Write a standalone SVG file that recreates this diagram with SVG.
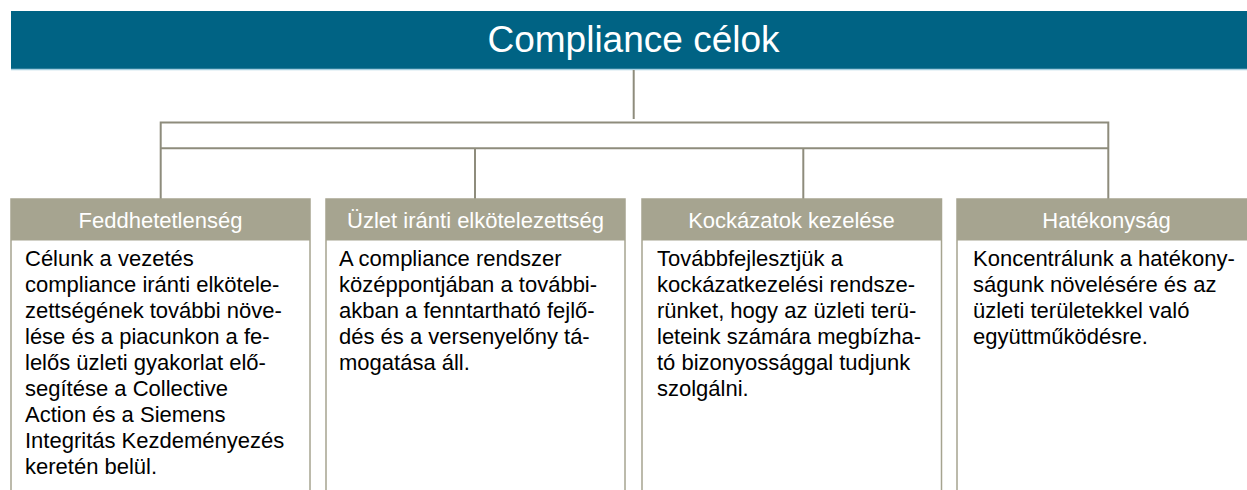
<svg xmlns="http://www.w3.org/2000/svg" width="1247" height="490" viewBox="0 0 1247 490">
<style>
.title{font-family:"Liberation Sans",Arial,sans-serif;font-size:37px;fill:#ffffff;text-anchor:middle}
.hdr{fill:#A6A490}
.hdrt{font-family:"Liberation Sans",Arial,sans-serif;font-size:22px;fill:#ffffff;text-anchor:middle}
.box{fill:#ffffff;stroke:#A6A490;stroke-width:1.5}
.body{font-family:"Liberation Sans",Arial,sans-serif;font-size:22px;fill:#000000}
.con{stroke:#8E8C7C;stroke-width:2;fill:none}
</style>
<rect width="1247" height="490" fill="#ffffff"/>
<g id="title">
<rect x="11" y="11" width="1246" height="59" fill="#006384"/>
<line x1="11" y1="69.5" x2="1247" y2="69.5" stroke="#A8CFE0" stroke-width="1.5"/>
<text class="title" x="633.5" y="52">Compliance célok</text>
</g>
<g id="connectors">
<line class="con" x1="633.7" y1="70" x2="633.7" y2="119"/>
<polyline class="con" points="160.7,199 160.7,122.5 1108.3,122.5 1108.3,199"/>
<line class="con" x1="160.7" y1="148.3" x2="1108.3" y2="148.3"/>
<line class="con" x1="475" y1="148.3" x2="475" y2="199"/>
<line class="con" x1="803.3" y1="148.3" x2="803.3" y2="199"/>
</g>
<g id="node-feddhetetlenseg">
<rect class="box" x="11" y="199" width="299" height="300"/>
<rect class="hdr" x="11" y="199" width="299" height="41.5"/>
<text class="hdrt" x="160.5" y="228">Feddhetetlenség</text>
<text class="body" x="25" y="266">
<tspan x="25" y="266">Célunk a vezetés</tspan>
<tspan x="25" y="292">compliance iránti elkötele-</tspan>
<tspan x="25" y="318">zettségének további növe-</tspan>
<tspan x="25" y="344">lése és a piacunkon a fe-</tspan>
<tspan x="25" y="370">lelős üzleti gyakorlat elő-</tspan>
<tspan x="25" y="396">segítése a Collective</tspan>
<tspan x="25" y="422">Action és a Siemens</tspan>
<tspan x="25" y="448">Integritás Kezdeményezés</tspan>
<tspan x="25" y="474">keretén belül.</tspan>
</text>
</g>
<g id="node-uzlet">
<rect class="box" x="326" y="199" width="299" height="300"/>
<rect class="hdr" x="326" y="199" width="299" height="41.5"/>
<text class="hdrt" x="475.5" y="228">Üzlet iránti elkötelezettség</text>
<text class="body" x="339" y="266">
<tspan x="339" y="266">A compliance rendszer</tspan>
<tspan x="339" y="292">középpontjában a további-</tspan>
<tspan x="339" y="318">akban a fenntartható fejlő-</tspan>
<tspan x="339" y="344">dés és a versenyelőny tá-</tspan>
<tspan x="339" y="370">mogatása áll.</tspan>
</text>
</g>
<g id="node-kockazatok">
<rect class="box" x="642" y="199" width="299.5" height="300"/>
<rect class="hdr" x="642" y="199" width="299.5" height="41.5"/>
<text class="hdrt" x="791.5" y="228">Kockázatok kezelése</text>
<text class="body" x="657" y="266">
<tspan x="657" y="266">Továbbfejlesztjük a</tspan>
<tspan x="657" y="292">kockázatkezelési rendsze-</tspan>
<tspan x="657" y="318">rünket, hogy az üzleti terü-</tspan>
<tspan x="657" y="344">leteink számára megbízha-</tspan>
<tspan x="657" y="370">tó bizonyossággal tudjunk</tspan>
<tspan x="657" y="396">szolgálni.</tspan>
</text>
</g>
<g id="node-hatekonysag">
<rect class="box" x="957" y="199" width="299" height="300"/>
<rect class="hdr" x="957" y="199" width="299" height="41.5"/>
<text class="hdrt" x="1106.5" y="228">Hatékonyság</text>
<text class="body" x="973" y="266">
<tspan x="973" y="266">Koncentrálunk a hatékony-</tspan>
<tspan x="973" y="292">ságunk növelésére és az</tspan>
<tspan x="973" y="318">üzleti területekkel való</tspan>
<tspan x="973" y="344">együttműködésre.</tspan>
</text>
</g>
</svg>
